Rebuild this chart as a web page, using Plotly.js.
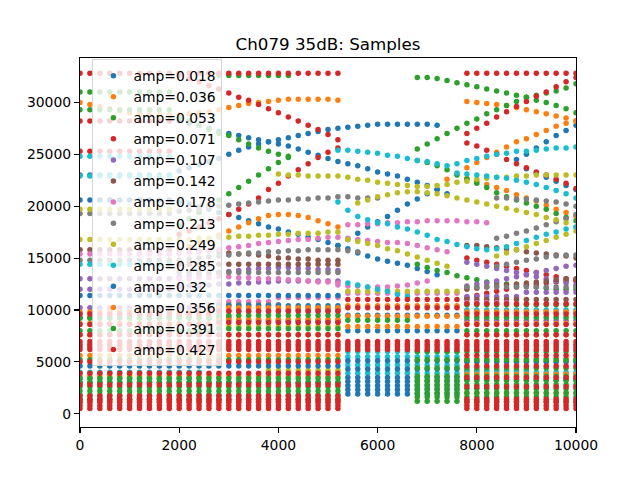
<!DOCTYPE html>
<html>
<head>
<meta charset="utf-8">
<script src="https://cdn.plot.ly/plotly-3.0.1.min.js"></script>
<style>
  html, body { margin: 0; padding: 0; background: #fff; }
  #chart { width: 640px; height: 480px; }
</style>
</head>
<body>
<div id="chart"></div>
<script>
// Ch079 35dB — ADC samples per sweep step, one series per drive amplitude.
// Values are in thousands of counts.

const amps = ['0.018', '0.036', '0.053', '0.071', '0.107', '0.142', '0.178',
              '0.213', '0.249', '0.285', '0.32', '0.356', '0.391', '0.427'];
const colors = ['#1f77b4', '#ff7f0e', '#2ca02c', '#d62728', '#9467bd', '#8c564b',
                '#e377c2', '#7f7f7f', '#bcbd22', '#17becf',
                '#1f77b4', '#ff7f0e', '#2ca02c', '#d62728'];

// sweep steps (x)
const sampleX = [0, 200, 400, 600, 800, 1000, 1200, 1400, 1600, 1800, 2000, 2200, 2400,
  2600, 2800, 3000, 3200, 3400, 3600, 3800, 4000, 4200, 4400, 4600, 4800, 5000, 5200,
  5400, 5600, 5800, 6000, 6200, 6400, 6600, 6800, 7000, 7200, 7400, 7600, 7800, 8000,
  8200, 8400, 8600, 8800, 9000, 9200, 9400, 9600, 9800, 10000];

const xTicks = [0, 2000, 4000, 6000, 8000, 10000];
const yTicks = [0, 5000, 10000, 15000, 20000, 25000, 30000];

// rows: [xFrom, xTo, [levels]] — a level that repeats at every step in that span
// curves: [xStart, y, y, ...] — one value per step from xStart on

const rows018 = [[0, 1800, [20.6, 23.0]]];
const curves018 = [
  [2000, 23.4, 23.7, 24.0, 24.3, 24.6, 25.0, 25.4, 25.7, 26.0, 26.2, 26.4, 26.6, 26.8, 27.0, 27.2, 27.4, 27.5, 27.6, 27.7, 27.8, 27.9, 27.9, 27.9, 27.9, 27.9, 27.9, 27.8],
  [2000, 28.2, 28.0, 27.8, 27.5, 27.2, 27.0, 26.8, 26.6, 26.4, 26.2, 26.0, 25.8, 25.5, 25.2, 24.9, 24.6, 24.3, 24.1, 23.9, 23.6, 23.3, 23.1, 22.9, 22.6, 22.3, 22.0, 21.6, 21.2],
  [2000, 20.4, 20.2, 19.9, 19.7, 19.4, 19.2, 18.9, 18.6, 18.3, 18.0, 17.8, 17.5, 17.3, 17.0, 16.8, 16.5, 16.2, 15.9, 15.5, 15.2, 14.9, 14.7, 14.5, 14.3, 14.0, 13.7, 13.4],
  [5200, 16.2, 16.8, 17.4, 18.0, 18.5, 19.0, 19.6, 20.2, 20.7, 21.2, 21.6],
  [8800, 24.5, 25.0, 25.6, 26.2, 26.8, 27.3, 27.8],
  [9000, 23.6, 23.2, 22.8, 22.4, 22.0, 21.6]
];

const rows036 = [];
const curves036 = [
  [0, 30.0, 29.8, 29.6, 29.4, 29.2, 29.0, 28.9, 28.8, 28.8, 28.8, 28.8, 28.9, 29.0, 29.1, 29.3, 29.5, 29.7, 29.9, 30.0, 30.1, 30.2, 30.3, 30.3, 30.3, 30.3, 30.3, 30.2],
  [7800, 30.1, 30.0, 29.9, 29.8, 29.7, 29.5, 29.3, 29.1, 28.9, 28.7, 28.5, 28.2],
  [7400, 22.6, 23.1, 23.7, 24.2, 24.7, 25.2, 25.7, 26.2, 26.5, 26.9, 27.3, 27.7, 28.0, 28.2],
  [7800, 22.7, 22.4, 22.1, 21.8, 21.5, 21.1, 20.8, 20.5, 20.1, 19.7, 19.4, 19.0],
  [2000, 15.8, 16.1, 16.5, 16.8, 17.2, 17.6, 18.0, 18.4, 18.8, 19.1, 19.2, 19.2, 19.1, 18.9, 18.6, 18.3, 18.0]
];

const rows053 = [[2800, 4200, [32.6]], [0, 1800, [31.0, 29.3]]];
const curves053 = [
  [6800, 32.4, 32.4, 32.3, 32.1, 31.9, 31.7, 31.5, 31.3, 31.1, 30.9, 30.7, 30.5, 30.2, 30.0, 29.7, 29.4, 29.0],
  [6800, 25.5, 26.0, 26.5, 27.0, 27.5, 28.0, 28.4, 28.9, 29.3, 29.7, 30.1, 30.5, 30.7, 30.9, 31.1, 31.4, 31.8],
  [6800, 24.4, 24.2, 23.9, 23.5, 23.0, 22.6, 22.2, 21.8, 21.3, 20.9, 20.6, 20.3, 20.0, 19.7, 19.3, 18.9, 18.6],
  [2000, 28.5, 28.2, 27.8, 27.4, 27.0, 26.8, 26.4, 26.0, 25.6, 25.3, 25.0, 24.7],
  [2000, 18.2, 18.8, 19.4, 20.0, 20.6, 21.2, 21.8, 22.4, 23.0, 23.6, 24.2, 24.8],
  [6800, 14.4, 14.1, 13.8, 13.6, 13.3, 13.1, 12.9, 12.7, 12.6, 12.5, 12.4, 12.3, 12.2, 12.1, 12.0, 12.0, 12.0]
];

const rows071 = [[0, 5200, [32.8]], [7800, 10000, [32.8]], [0, 1800, [28.2, 25.3]]];
const curves071 = [
  [2000, 32.6, 32.3, 32.0, 31.6, 31.3, 30.9, 30.5, 30.2, 29.8, 29.4, 29.0, 28.6, 28.2, 27.8, 27.4, 26.9, 26.4],
  [7800, 27.0, 27.5, 28.0, 28.6, 29.1, 29.6, 30.1, 30.6, 31.0, 31.5, 32.0, 32.4],
  [7800, 26.1, 25.8, 25.4, 25.0, 24.5, 24.1, 23.7, 23.3, 23.0, 22.6, 22.2, 21.7],
  [2000, 17.3, 17.6, 18.0, 18.4, 18.8, 19.2, 19.7, 20.2, 20.8, 21.6, 22.2, 22.9, 23.5, 24.1, 24.7, 25.2, 25.6],
  [7800, 15.0, 14.8, 14.6, 14.4, 14.2, 14.0, 13.8, 13.6, 13.4, 13.2, 13.0, 12.8],
  [7800, 11.2, 11.4, 11.6, 11.8, 12.0, 12.2, 12.4, 12.5, 12.6, 12.7, 12.8, 12.9]
];

const rows107 = [[0, 2600, [10.2]], [2800, 5200, [9.9]], [7800, 8800, [11.3]], [9000, 10000, [11.7]],
  [7800, 10000, [9.0]], [0, 1800, [13.0, 12.0]]];
const curves107 = [
  [2000, 13.2, 13.3, 13.4, 13.5, 13.6, 13.7, 13.8, 13.9, 14.0, 14.0, 14.1, 14.1, 14.0, 14.0, 13.9, 13.9, 13.8],
  [2000, 12.2, 12.3, 12.3, 12.4, 12.5, 12.5, 12.6, 12.6, 12.7, 12.7, 12.8, 12.8, 12.8, 12.8, 12.8, 12.8, 12.8],
  [7800, 12.3, 12.5, 12.6, 12.8, 13.0, 13.2, 13.4, 13.6, 13.8, 14.0, 14.2, 14.3],
  [7800, 14.6, 14.4, 14.2, 14.0, 13.8, 13.6, 13.4, 13.2, 13.0, 12.8, 12.6, 12.4]
];

const rows142 = [[7800, 10000, [11.0]], [0, 3000, [9.3]], [3200, 5200, [8.9]], [2000, 5200, [14.4]], [0, 1800, [15.8]]];
const curves142 = [
  [2000, 15.8, 15.8, 15.7, 15.7, 15.6, 15.5, 15.4, 15.4, 15.3, 15.2, 15.0, 15.0, 14.9, 14.9, 14.8, 14.8, 14.8],
  [7800, 16.2, 16.2, 16.1, 16.0, 15.9, 15.8, 15.6, 15.5, 15.4, 15.3, 15.2, 15.0],
  [7800, 12.0, 12.1, 12.2, 12.3, 12.4, 12.5, 12.6, 12.7, 12.8, 12.9, 13.0, 13.0]
];

const rows178 = [[2800, 3800, [10.8]], [4000, 5200, [11.2]], [7800, 8600, [10.7]], [5400, 7600, [11.6]], [0, 1800, [15.4]]];
const curves178 = [
  [5400, 18.2, 18.2, 18.3, 18.3, 18.4, 18.4, 18.5, 18.5, 18.6, 18.6, 18.6, 18.6, 18.5, 18.5, 18.4],
  [2000, 15.4, 15.5, 15.6, 15.7, 15.8, 16.0, 16.1, 16.2, 16.4, 16.5, 16.6, 16.7, 16.8, 16.8, 16.9, 17.0, 17.0],
  [5400, 16.9, 16.8, 16.7, 16.6, 16.5, 16.5, 16.4, 16.2, 16.0, 15.8, 15.6],
  [5200, 12.4, 12.3, 12.3, 12.2, 12.2, 12.2, 12.3, 12.4, 12.6, 12.8],
  [2000, 13.0, 13.0, 13.1, 13.1, 13.2, 13.2, 13.1, 13.1, 13.0, 13.0, 13.0, 12.9, 12.9, 12.8, 12.7, 12.7, 12.6]
];

const rows213 = [[2600, 4000, [10.5]], [4200, 5200, [10.1]], [7800, 10000, [12.2]], [2000, 5200, [13.6]], [0, 1800, [14.8, 19.3]],
  [7800, 9000, [4.2]]];
const curves213 = [
  [2000, 19.5, 19.6, 19.7, 19.9, 20.0, 20.1, 20.2, 20.3, 20.4, 20.5, 20.6, 20.6, 20.7, 20.7, 20.8, 20.8, 20.9, 20.9, 20.8, 20.8, 20.8],
  [8400, 20.8, 20.8, 20.7, 20.7, 20.6, 20.5, 20.4, 20.2, 20.0],
  [8400, 16.9, 17.1, 17.4, 17.6, 17.9, 18.2, 18.5, 18.8, 19.2],
  [2000, 14.8, 14.9, 15.0, 15.1, 15.2, 15.3, 15.4, 15.5, 15.5, 15.6, 15.6, 15.7, 15.7, 15.8, 15.8, 15.8, 15.8, 15.7, 15.6],
  [8400, 14.2, 14.4, 14.6, 14.8, 14.9, 15.1, 15.2, 15.3, 15.3]
];

const rows249 = [[2800, 5200, [8.4]], [3800, 5200, [4.2]], [7800, 10000, [9.8, 5.0]], [5400, 7600, [11.8]], [0, 1800, [19.7, 16.8]]];
const curves249 = [
  [4000, 23.1, 23.0, 23.0, 22.9, 22.9, 22.9, 22.9, 22.8, 22.6, 22.5, 22.3, 22.2, 22.1, 22.0, 21.9, 21.9, 22.0, 22.1, 22.3, 22.4, 22.6, 22.7, 22.8, 22.8, 22.9, 22.9, 23.0, 23.0, 23.0, 23.0, 23.0],
  [5600, 20.3, 20.6, 20.9, 21.1, 21.3, 21.4, 21.4, 21.3, 21.2, 21.0, 20.8, 20.6, 20.4, 20.2, 20.0, 19.8, 19.6, 19.4, 19.2, 18.9, 18.7, 18.4, 18.0],
  [5400, 16.8, 16.6, 16.4, 16.2, 15.9, 15.7, 15.4, 15.1, 14.8, 14.5, 14.2],
  [8400, 15.2, 15.5, 15.8, 16.1, 16.4, 16.7, 17.0, 17.3, 17.6],
  [2000, 16.8, 16.8, 16.9, 16.9, 17.0, 17.0, 17.1, 17.1, 17.2, 17.2, 17.3, 17.3, 17.4, 17.4, 17.4, 17.5, 17.5]
];

const rows285 = [[7800, 10000, [10.0, 4.0]], [2800, 5200, [9.0]], [0, 1800, [24.8, 22.9, 14.4]],
  [5400, 7600, [3.9, 4.7, 5.5, 6.0]], [0, 2400, [3.4, 4.0]]];
const curves285 = [
  [5200, 25.4, 25.4, 25.3, 25.2, 25.1, 24.9, 24.8, 24.6, 24.4, 24.3, 24.1, 23.9, 24.1, 24.4, 24.6, 24.8, 25.0, 25.1, 25.3, 25.3, 25.4, 25.5, 25.6, 25.6, 25.7],
  [5200, 20.4, 19.6, 19.0, 18.7, 18.4, 18.3, 18.0, 17.8, 17.5, 17.2, 16.8, 16.6, 16.3, 16.1, 15.9, 15.8, 15.9, 16.1, 16.4, 16.7, 17.0, 17.3, 17.5, 17.8, 18.0],
  [7600, 23.2, 23.1, 23.0, 22.9, 22.8, 22.7, 22.5, 22.3, 22.1, 21.8, 21.5, 21.2, 20.8],
  [5400, 12.6, 12.4, 12.2, 12.0, 11.8, 11.5, 11.3, 11.0]
];

const rows320 = [[5400, 7600, [1.9, 2.3, 2.7, 3.1, 3.5, 4.3, 5.1, 8.0, 9.5]], [0, 5200, [3.0, 4.6, 11.4]],
  [7800, 10000, [3.3, 5.0]], [2800, 5200, [10.4]]];
const curves320 = [];

const rows356 = [[0, 5200, [1.2, 3.6, 5.6, 7.6]], [0, 2600, [8.7, 9.8]], [2800, 5200, [9.1, 10.2]],
  [7800, 10000, [2.0, 3.8, 5.3, 7.6, 8.7, 9.8]], [5400, 7600, [8.4, 9.4, 10.4]]];
const curves356 = [];

const rows391 = [[0, 5200, [1.4, 1.8, 2.2, 2.6, 3.0, 3.4, 5.2]], [0, 2600, [8.0, 9.2]], [2800, 5200, [8.2, 9.5]],
  [6800, 10000, [1.2, 1.6, 2.0, 2.4, 2.8, 3.2, 3.6, 4.4, 5.2, 6.0]],
  [7800, 10000, [8.0, 9.3, 10.5]], [5400, 6600, [9.0]]];
const curves391 = [];

const rows427 = [[0, 10000, [6.2, 6.45, 6.7, 6.95]],
  [0, 5200, [0.5, 0.8, 1.1, 1.4, 1.7, 2.8, 3.9, 5.0, 7.6]], [0, 2600, [8.6, 9.6]], [2800, 5200, [8.8, 9.9]],
  [7800, 10000, [0.5, 0.8, 1.1, 1.4, 2.6, 3.5, 4.6, 5.6, 7.6, 8.6, 9.6, 10.6]],
  [5400, 7600, [10.2, 11.0]]];
const curves427 = [];

const seriesRows = [rows018, rows036, rows053, rows071, rows107, rows142, rows178,
                    rows213, rows249, rows285, rows320, rows356, rows391, rows427];
const seriesCurves = [curves018, curves036, curves053, curves071, curves107, curves142, curves178,
                      curves213, curves249, curves285, curves320, curves356, curves391, curves427];

function buildPoints(rows, curves) {
  const x = [], y = [];
  rows.forEach(([from, to, levels]) => {
    levels.forEach(level => {
      sampleX.forEach(sx => {
        if (sx >= from && sx <= to) { x.push(sx); y.push(level * 1000); }
      });
    });
  });
  curves.forEach(([start, ...vals]) => {
    const i0 = sampleX.indexOf(start);
    vals.forEach((v, k) => { x.push(sampleX[i0 + k]); y.push(v * 1000); });
  });
  return { x, y };
}

const traces = amps.map((amp, i) => {
  const pts = buildPoints(seriesRows[i], seriesCurves[i]);
  return {
    type: 'scatter', mode: 'markers',
    name: 'amp=' + amp,
    x: pts.x, y: pts.y,
    marker: { color: colors[i], size: 5.5, line: { width: 0 } },
    hoverinfo: 'skip'
  };
});

const axisCommon = {
  ticks: 'outside', ticklen: 5, tickwidth: 1.1, tickcolor: '#000',
  showline: true, linewidth: 1.1, linecolor: '#000', mirror: true,
  showgrid: false, zeroline: false, tickformat: 'd',
  tickfont: { size: 13.9, color: '#000' }
};

const layout = {
  width: 640, height: 480,
  margin: { l: 80, r: 64, t: 58, b: 53, pad: 0 },
  paper_bgcolor: '#fff', plot_bgcolor: '#fff',
  font: { family: 'DejaVu Sans, sans-serif', size: 13.9, color: '#000' },
  title: {
    text: 'Ch079 35dB: Samples',
    font: { size: 16.7, color: '#000' },
    x: 0.5, xref: 'paper', xanchor: 'center',
    y: 0.908, yref: 'container', yanchor: 'middle'
  },
  xaxis: Object.assign({}, axisCommon, { range: [0, 10000], tickvals: xTicks }),
  yaxis: Object.assign({}, axisCommon, { range: [-1280, 34280], tickvals: yTicks }),
  showlegend: true,
  legend: {
    x: 0.025, y: 0.997, xanchor: 'left', yanchor: 'top',
    bgcolor: 'rgba(255,255,255,0.8)', bordercolor: 'rgba(204,204,204,0.8)', borderwidth: 1,
    font: { size: 13.9, color: '#000' }
  }
};

Plotly.newPlot('chart', traces, layout, { displayModeBar: false, staticPlot: true });
</script>
</body>
</html>
